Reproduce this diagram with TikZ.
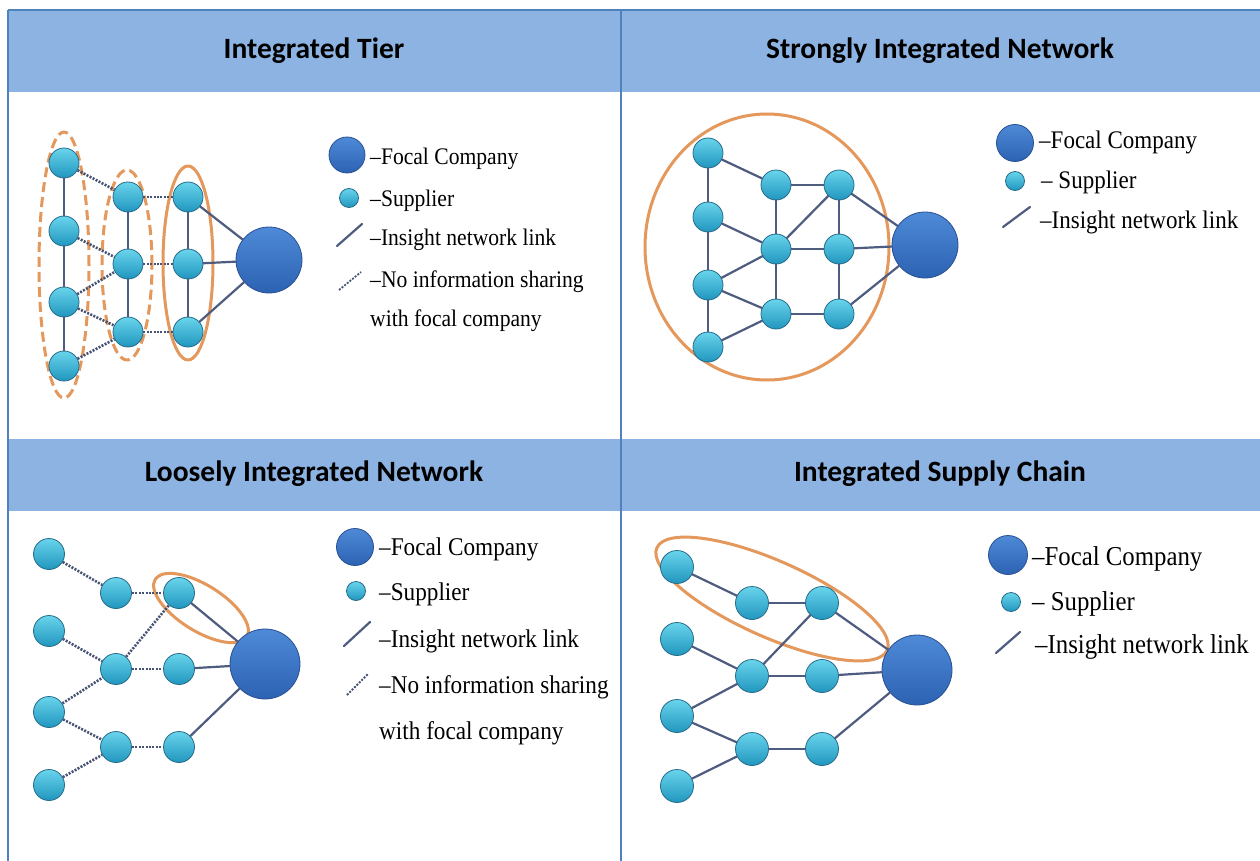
\documentclass[tikz,border=0pt]{standalone}
\usepackage{fontspec}
\setmainfont{Liberation Serif}
\newfontfamily\hdrfont{Carlito}
\definecolor{hdrblue}{RGB}{141,179,226}
\definecolor{ruleblue}{RGB}{79,129,189}
\definecolor{suptop}{RGB}{105,212,236}
\definecolor{supbot}{RGB}{32,150,190}
\definecolor{supedge}{RGB}{38,108,138}
\definecolor{foctop}{RGB}{78,138,215}
\definecolor{focbot}{RGB}{44,98,178}
\definecolor{focedge}{RGB}{40,80,145}
\definecolor{linkgray}{RGB}{78,92,128}
\definecolor{ringorange}{RGB}{228,152,92}
\begin{document}
\begin{tikzpicture}[x=1pt, y=-1pt, line join=round, line cap=round,
	supplier/.style={circle, inner sep=0pt, minimum size=30pt, draw=supedge, line width=0.8pt, top color=suptop, bottom color=supbot},
	focal/.style={circle, inner sep=0pt, minimum size=66pt, draw=focedge, line width=0.8pt, top color=foctop, bottom color=focbot},
	insight/.style={draw=linkgray, line width=2.2pt},
	noshare/.style={draw=linkgray!90!black, line width=2.6pt, line cap=butt, dash pattern=on 2pt off 1.4pt},
	tierring/.style={draw=ringorange, line width=3pt},
	dashring/.style={tierring, line cap=butt, dash pattern=on 10pt off 5pt},
	hdr/.style={font=\hdrfont\bfseries\fontsize{29.5}{33}\selectfont},
	legtext/.style={anchor=base west, inner sep=0pt, yscale=1.1, transform shape, font=\fontsize{#1}{#1}\selectfont}]
	\useasboundingbox (0,0) rectangle (1260,861);
	\fill[white] (0,0) rectangle (1260,861);
	% table frame
	\fill[hdrblue] (8,10) rectangle (1260,92);
	\fill[hdrblue] (8,439) rectangle (1260,511);
	\draw[ruleblue, line width=2.5pt, line cap=butt] (8,10)--(1260,10);
	\draw[ruleblue, line width=2.5pt, line cap=butt] (8,10)--(8,861);
	\draw[ruleblue, line width=2.5pt, line cap=butt] (621,10)--(621,861);
	\node[hdr] (h1) at (314,51) {Integrated Tier};
	\node[hdr] (h2) at (940,51) {Strongly Integrated Network};
	\node[hdr] (h3) at (314,474) {Loosely Integrated Network};
	\node[hdr] (h4) at (940,474) {Integrated Supply Chain};

	% integrated tier
	\draw[dashring] (64,265) ellipse [x radius=25pt, y radius=133pt];
	\draw[dashring] (127,265) ellipse [x radius=25pt, y radius=95pt];
	\draw[tierring] (188,263) ellipse [x radius=25pt, y radius=97pt];
	\foreach \n/\y in {1/163,2/231,3/302,4/366}
	\node[supplier] (ta\n) at (64,\y) {};
	\foreach \n/\y in {1/197,2/264,3/332}{
		\node[supplier] (tb\n) at (128,\y) {};
		\node[supplier] (tc\n) at (188,\y) {};
	}
	\node[focal] (tf) at (269,260) {};
	\foreach \u/\v in {ta1/ta2,ta2/ta3,ta3/ta4,tb1/tb2,tb2/tb3,tc1/tc2,tc2/tc3,tc1/tf,tc2/tf,tc3/tf}
	\draw[insight] (\u)--(\v);
	\foreach \u/\v in {ta1/tb1,ta2/tb2,ta3/tb2,ta3/tb3,ta4/tb3,tb1/tc1,tb2/tc2,tb3/tc3}
	\draw[noshare] (\u)--(\v);
	\node[focal, minimum size=36pt] (tkf) at (347,155) {};
	\node[supplier, minimum size=19pt] (tks) at (349,198) {};
	\draw[insight] (337,246)--(362,224);
	\draw[noshare, line width=1.8pt] (339,290)--(361,272);
	\node[legtext=21.6] (tt1) at (370,165) {--Focal Company};
	\node[legtext=21.6] (tt2) at (370,206) {--Supplier};
	\node[legtext=21.6] (tt3) at (370,245) {--Insight network link};
	\node[legtext=21.6] (tt4) at (370,287) {--No information sharing};
	\node[legtext=21.6] (tt5) at (370,326) {with focal company};

	% strongly integrated network
	\draw[tierring] (767,247) ellipse [x radius=122pt, y radius=133pt];
	\foreach \n/\y in {1/153,2/217,3/285,4/347}
	\node[supplier] (sl\n) at (708,\y) {};
	\foreach \n/\y in {1/185,2/249,3/314}{
		\node[supplier] (sm\n) at (776,\y) {};
		\node[supplier] (sr\n) at (839,\y) {};
	}
	\node[focal] (sf) at (925,245) {};
	\foreach \u/\v in {sl1/sl2,sl2/sl3,sl3/sl4,sl1/sm1,sl2/sm2,sl3/sm2,sl3/sm3,sl4/sm3,sm1/sm2,sm2/sm3,
		sm1/sr1,sm2/sr2,sm3/sr3,sm2/sr1,sr1/sr2,sr2/sr3,sr1/sf,sr2/sf,sr3/sf}
	\draw[insight] (\u)--(\v);
	\node[focal, minimum size=37pt] (skf) at (1015,143) {};
	\node[supplier, minimum size=19pt] (sks) at (1015,181) {};
	\draw[insight] (1003,227)--(1030,207);
	\node[legtext=23] (st1) at (1039,149) {--Focal Company};
	\node[legtext=23] (st2) at (1041,189) {-- Supplier};
	\node[legtext=23] (st3) at (1040,228) {--Insight network link};

	% loosely integrated network
	\draw[tierring, rotate around={-32:(201,608)}] (201,608) ellipse [x radius=54pt, y radius=23pt];
	\foreach \n/\y in {1/554,2/631,3/712,4/785}
	\node[supplier, minimum size=31pt] (la\n) at (49,\y) {};
	\foreach \n/\y in {1/593,2/669,3/747}{
		\node[supplier, minimum size=31pt] (lb\n) at (116,\y) {};
		\node[supplier, minimum size=31pt] (lc\n) at (179,\y) {};
	}
	\node[focal, minimum size=70pt] (lf) at (265,664) {};
	\foreach \u/\v in {la1/lb1,la2/lb2,la3/lb2,la3/lb3,la4/lb3,lb1/lc1,lb2/lc2,lb3/lc3,lb2/lc1}
	\draw[noshare] (\u)--(\v);
	\foreach \u/\v in {lc1/lf,lc2/lf,lc3/lf}
	\draw[insight] (\u)--(\v);
	\node[focal, minimum size=37pt] (lkf) at (355,547) {};
	\node[supplier, minimum size=19pt] (lks) at (356,591) {};
	\draw[insight] (344,646)--(370,622);
	\draw[noshare, line width=1.8pt] (347,695)--(368,674);
	\node[legtext=23.2] (lt1) at (379,555) {--Focal Company};
	\node[legtext=23.2] (lt2) at (379,600) {--Supplier};
	\node[legtext=23.2] (lt3) at (379,647) {--Insight network link};
	\node[legtext=23.2] (lt4) at (379,693) {--No information sharing};
	\node[legtext=23.2] (lt5) at (379,739) {with focal company};

	% integrated supply chain
	\draw[tierring, rotate around={-24:(772,599)}] (772,599) ellipse [x radius=126pt, y radius=38pt];
	\foreach \n/\y in {1/567,2/639,3/716,4/786}
	\node[supplier, minimum size=33pt] (ca\n) at (677,\y) {};
	\foreach \n/\y in {1/603,2/676,3/749}{
		\node[supplier, minimum size=33pt] (cb\n) at (752,\y) {};
		\node[supplier, minimum size=33pt] (cc\n) at (822,\y) {};
	}
	\node[focal, minimum size=70pt] (cf) at (917,670) {};
	\foreach \u/\v in {ca1/cb1,cb1/cc1,cc1/cf,ca2/cb2,cb2/cc2,cc2/cf,ca3/cb2,ca3/cb3,ca4/cb3,cb3/cc3,cc3/cf,cb2/cc1}
	\draw[insight] (\u)--(\v);
	\node[focal, minimum size=39pt] (ckf) at (1008,555) {};
	\node[supplier, minimum size=19pt] (cks) at (1011,602) {};
	\draw[insight] (996,653)--(1020,632);
	\node[legtext=24.8] (ct1) at (1032,565) {--Focal Company};
	\node[legtext=24.8] (ct2) at (1032,610) {-- Supplier};
	\node[legtext=24.8] (ct3) at (1035,653) {--Insight network link};
\end{tikzpicture}
\end{document}
